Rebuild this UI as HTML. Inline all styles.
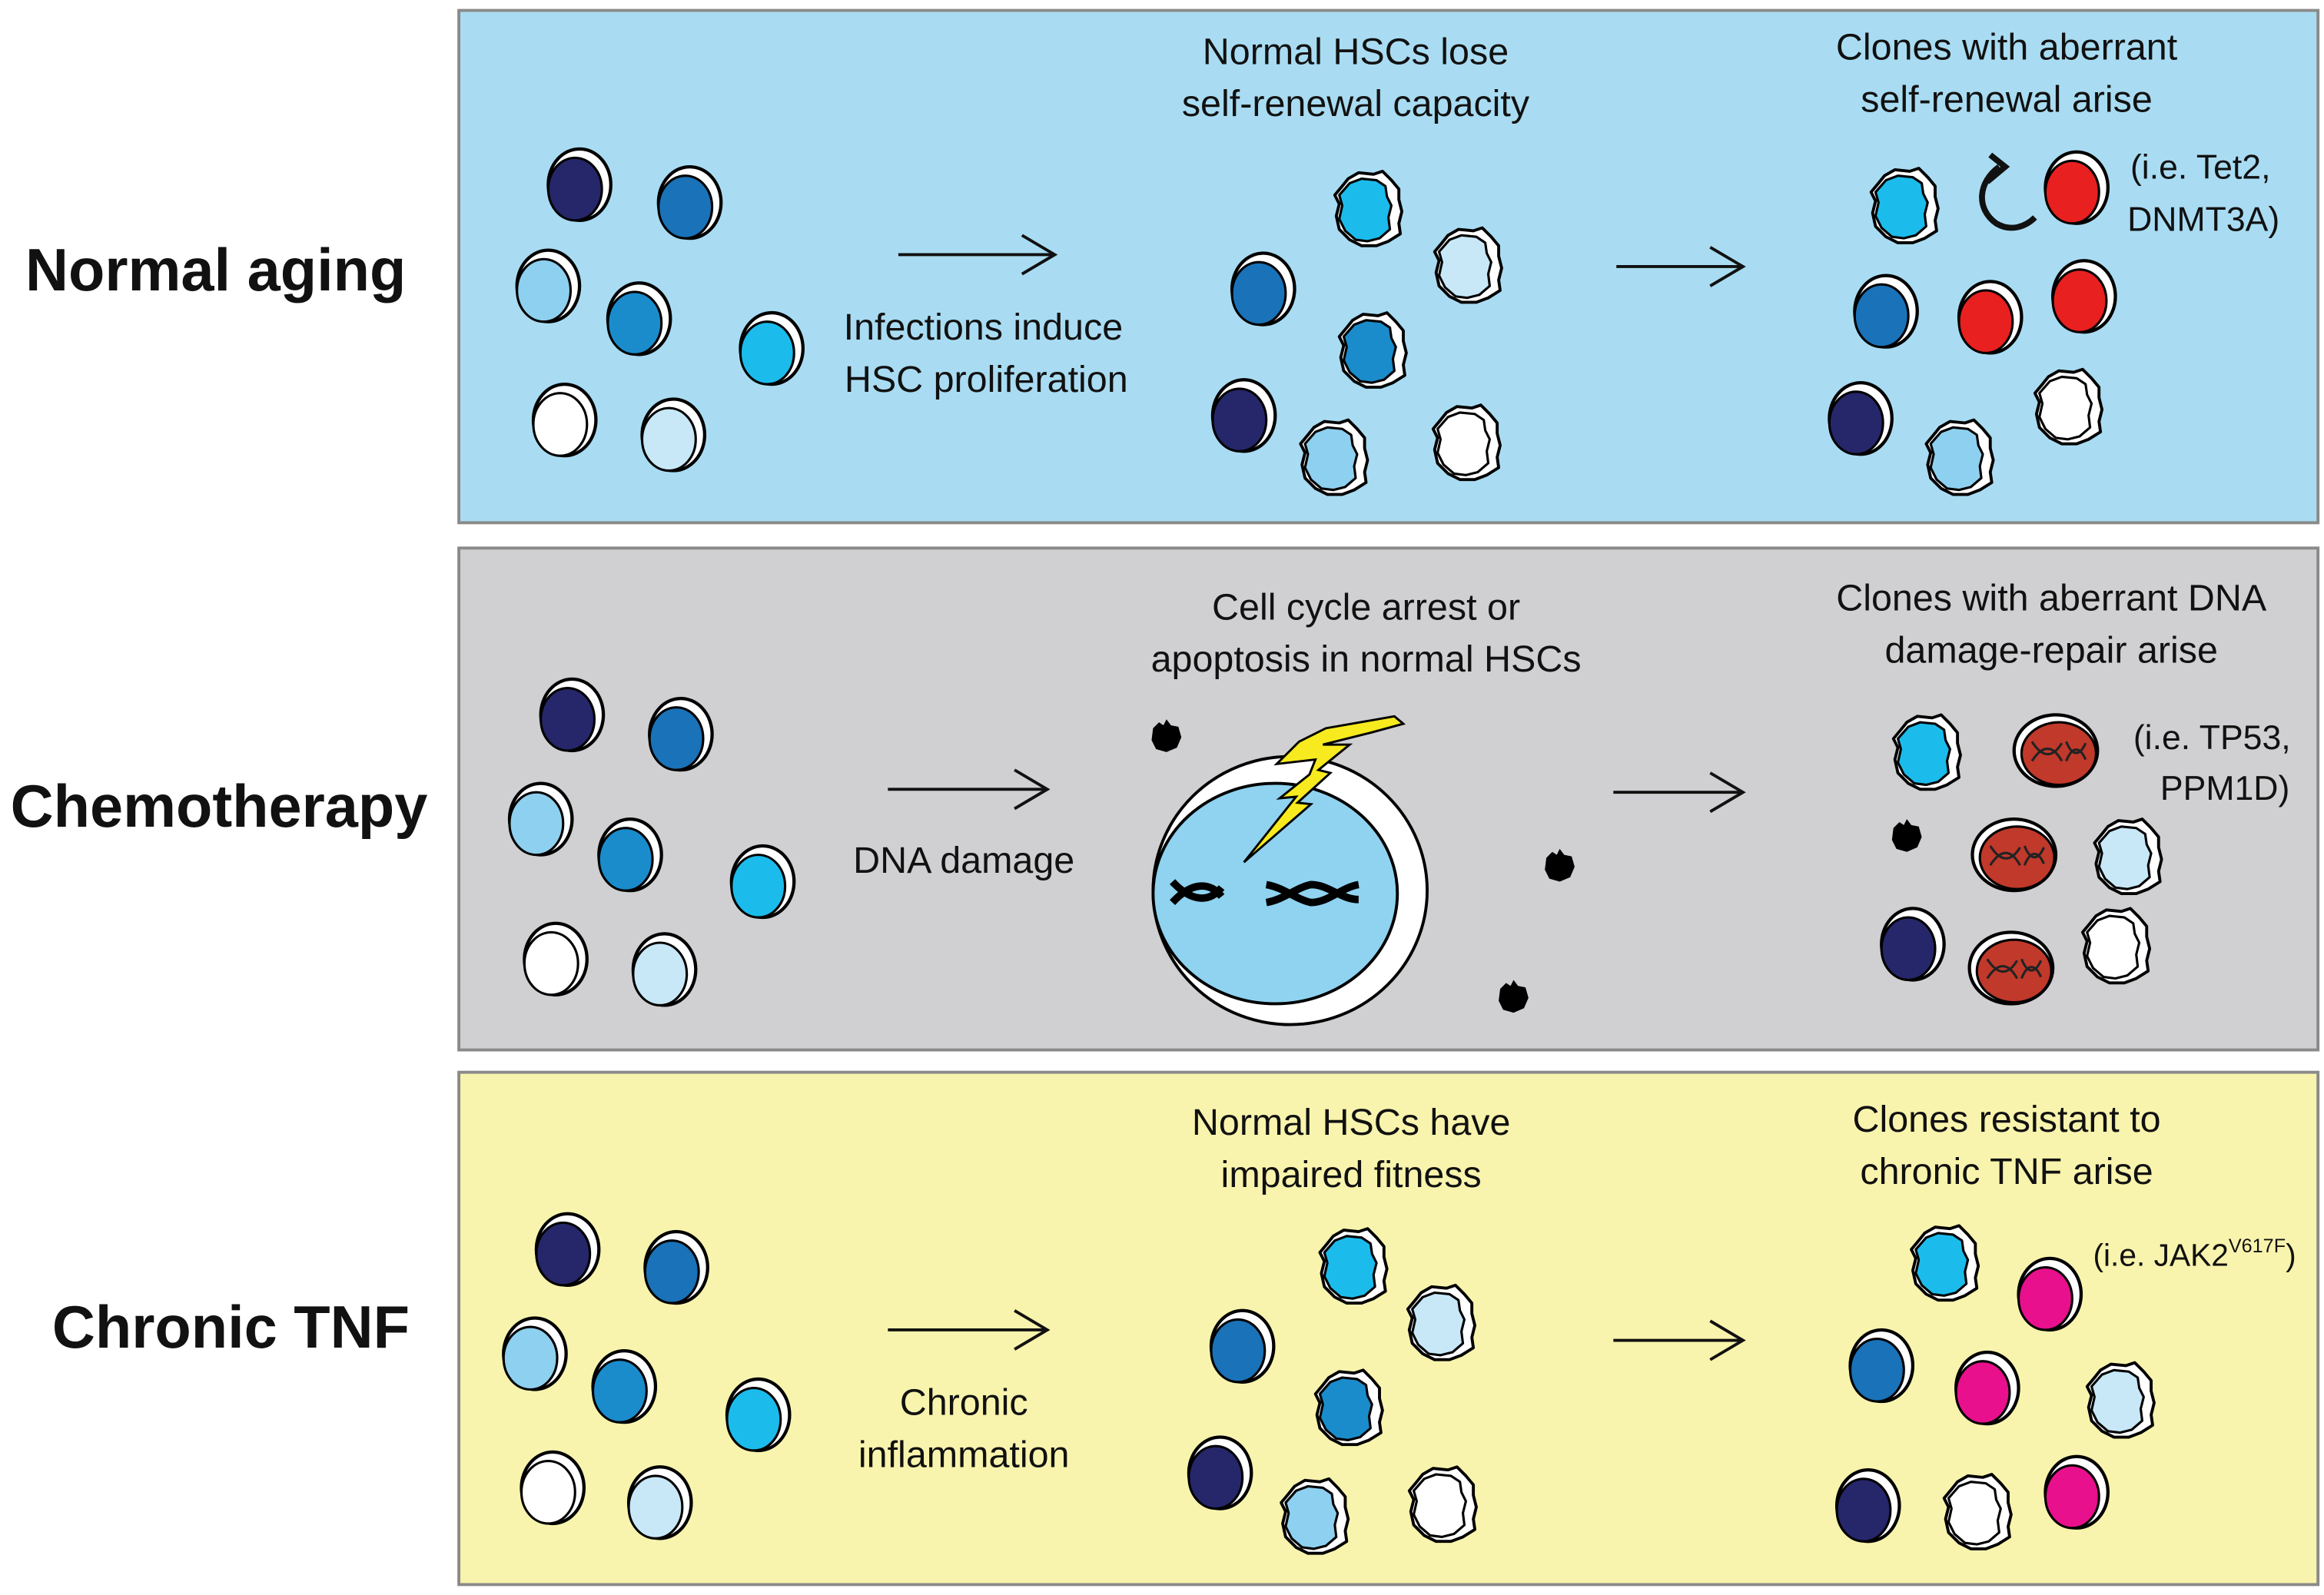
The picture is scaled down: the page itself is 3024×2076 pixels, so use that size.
<!DOCTYPE html>
<html><head><meta charset="utf-8"><style>
html,body{margin:0;padding:0;background:#fff;}
svg{display:block;}
text{font-family:"Liberation Sans",Arial,sans-serif;fill:#111;}
.t{font-size:25px;text-anchor:middle;}
.s{font-size:23px;}
.h{font-size:40px;font-weight:bold;}
</style></head><body>
<svg width="3024" height="2076" viewBox="0 0 1560 1071" xmlns="http://www.w3.org/2000/svg">
<defs>
<symbol id="c" viewBox="-30 -30 60 60" overflow="visible">
<ellipse cx="1" cy="-1" rx="21" ry="24" fill="#fff" stroke="#000" stroke-width="2.2"/>
<ellipse cx="-2" cy="2" rx="18" ry="21" fill="currentColor" stroke="#000" stroke-width="1.6"/>
</symbol>
<symbol id="r" viewBox="-30 -30 60 60" overflow="visible">
<path d="M-13,-20 L-6,-24 L4,-23 L10,-25 L16,-19 L21,-13 L21,-6 L23,2 L21,10 L22,17 L14,22 L6,25 L-4,25 L-12,21 L-19,14 L-21,5 L-19,-3 L-22,-9 L-17,-15 Z" fill="#fff" stroke="#000" stroke-width="2" stroke-linejoin="round"/>
<path d="M-12,-17 L-4,-20 L6,-19 L12,-15 L13,-8 L16,-2 L14,6 L15,14 L8,20 L0,22 L-8,21 L-15,15 L-19,7 L-17,-2 L-19,-9 Z" fill="currentColor" stroke="#000" stroke-width="1.6" stroke-linejoin="round"/>
</symbol>
<symbol id="b" viewBox="-30 -30 60 60" overflow="visible">
<ellipse cx="0" cy="0" rx="28" ry="24" fill="#fff" stroke="#000" stroke-width="2.2"/>
<ellipse cx="2" cy="2" rx="25" ry="21" fill="#c0392b" stroke="#000" stroke-width="1.6"/>
<path d="M-16,-6 C-9,5 -2,5 4,-5 M-16,7 C-9,-4 -2,-4 4,7 M7,-6 C11,4 16,4 20,-5 M7,7 C11,-3 16,-3 20,6" fill="none" stroke="#222" stroke-width="1.6"/>
</symbol>
<symbol id="k" viewBox="-30 -30 60 60" overflow="visible">
<path d="M-9,-6 L-5,-10 L-2,-8 L0,-12 L3,-8 L8,-7 L10,0 L7,7 L0,10 L-7,8 L-10,2 Z" fill="#000"/>
</symbol>
</defs>

<rect x="308" y="7" width="1248" height="344" fill="#a9dcf2" stroke="#8a8a8a" stroke-width="2"/>
<rect x="308" y="368" width="1248" height="337" fill="#d0d0d2" stroke="#8a8a8a" stroke-width="2"/>
<rect x="308" y="720" width="1248" height="344" fill="#f9f4ad" stroke="#8a8a8a" stroke-width="2"/>

<text class="h" x="17" y="195">Normal aging</text>
<text class="h" x="7" y="555">Chemotherapy</text>
<text class="h" x="35" y="905">Chronic TNF</text>

<g stroke="#111" stroke-width="2" fill="none">
<path d="M603,171 H708 M686,158 L708,171 L686,184"/>
<path d="M1085,179 H1170 M1148,166 L1170,179 L1148,192"/>
<path d="M596,530 H703 M681,517 L703,530 L681,543"/>
<path d="M1083,532 H1170 M1148,519 L1170,532 L1148,545"/>
<path d="M596,893 H703 M681,880 L703,893 L681,906"/>
<path d="M1083,900 H1170 M1148,887 L1170,900 L1148,913"/>
</g>

<text class="t" x="660" y="228">Infections induce</text>
<text class="t" x="662" y="263">HSC proliferation</text>
<text class="t" x="910" y="43">Normal HSCs lose</text>
<text class="t" x="910" y="78">self-renewal capacity</text>
<text class="t" x="1347" y="40">Clones with aberrant</text>
<text class="t" x="1347" y="75">self-renewal arise</text>
<text class="s" x="1430" y="120">(i.e. Tet2,</text>
<text class="s" x="1428" y="155">DNMT3A)</text>

<use href="#c" x="358" y="95" width="60" height="60" color="#26266a"/>
<use href="#c" x="432" y="107" width="60" height="60" color="#1a72b8"/>
<use href="#c" x="337" y="163" width="60" height="60" color="#8ed0ef"/>
<use href="#c" x="398" y="185" width="60" height="60" color="#1a8ccc"/>
<use href="#c" x="487" y="205" width="60" height="60" color="#1bbcec"/>
<use href="#c" x="348" y="253" width="60" height="60" color="#ffffff"/>
<use href="#c" x="421" y="263" width="60" height="60" color="#c8e8f8"/>

<use href="#r" x="888" y="110" width="60" height="60" color="#1bbcec"/>
<use href="#r" x="955" y="148" width="60" height="60" color="#c8e8f8"/>
<use href="#c" x="817" y="165" width="60" height="60" color="#1a72b8"/>
<use href="#r" x="891" y="205" width="60" height="60" color="#1a8ccc"/>
<use href="#c" x="804" y="250" width="60" height="60" color="#26266a"/>
<use href="#r" x="865" y="277" width="60" height="60" color="#8ed0ef"/>
<use href="#r" x="954" y="267" width="60" height="60" color="#ffffff"/>

<use href="#r" x="1248" y="108" width="60" height="60" color="#1bbcec"/>
<use href="#c" x="1363" y="97" width="60" height="60" color="#e82020"/>
<path d="M1342,112 C1328,122 1326,140 1340,150 C1350,156 1360,152 1366,146" fill="none" stroke="#111" stroke-width="4"/>
<path d="M1336,104 L1346,112 L1334,122" fill="none" stroke="#111" stroke-width="4"/>
<use href="#c" x="1235" y="180" width="60" height="60" color="#1a72b8"/>
<use href="#c" x="1305" y="184" width="60" height="60" color="#e82020"/>
<use href="#c" x="1368" y="170" width="60" height="60" color="#e82020"/>
<use href="#c" x="1218" y="252" width="60" height="60" color="#26266a"/>
<use href="#r" x="1285" y="277" width="60" height="60" color="#8ed0ef"/>
<use href="#r" x="1358" y="243" width="60" height="60" color="#ffffff"/>

<text class="t" x="647" y="586">DNA damage</text>
<text class="t" x="917" y="416">Cell cycle arrest or</text>
<text class="t" x="917" y="451">apoptosis in normal HSCs</text>
<text class="t" x="1377" y="410">Clones with aberrant DNA</text>
<text class="t" x="1377" y="445">damage-repair arise</text>
<text class="s" x="1432" y="503">(i.e. TP53,</text>
<text class="s" x="1537" y="537" text-anchor="end">PPM1D)</text>

<use href="#c" x="353" y="451" width="60" height="60" color="#26266a"/>
<use href="#c" x="426" y="464" width="60" height="60" color="#1a72b8"/>
<use href="#c" x="332" y="521" width="60" height="60" color="#8ed0ef"/>
<use href="#c" x="392" y="545" width="60" height="60" color="#1a8ccc"/>
<use href="#c" x="481" y="563" width="60" height="60" color="#1bbcec"/>
<use href="#c" x="342" y="615" width="60" height="60" color="#ffffff"/>
<use href="#c" x="415" y="622" width="60" height="60" color="#c8e8f8"/>

<ellipse cx="866" cy="598" rx="92" ry="90" fill="#fff" stroke="#000" stroke-width="2"/>
<ellipse cx="856" cy="600" rx="82" ry="74" fill="#8fd3f0" stroke="#000" stroke-width="2"/>
<path d="M787,592 C800,606 812,606 820,596 M787,606 C800,592 812,592 820,602" fill="none" stroke="#000" stroke-width="5"/>
<path d="M850,594 C862,596 870,604 880,606 C892,606 900,596 912,594 M850,606 C862,604 870,596 880,594 C892,594 900,604 912,604" fill="none" stroke="#000" stroke-width="5"/>
<polygon points="936,481 890,489 872,498 857,513 883,510 879,520 859,536 870,535 835,579 880,540 871,539 893,519 885,517 906,500 888,500 920,492 942,486" fill="#f7ea1e" stroke="#000" stroke-width="1.5"/>
<use href="#k" x="753" y="465" width="60" height="60"/>
<use href="#k" x="1017" y="552" width="60" height="60"/>
<use href="#k" x="986" y="640" width="60" height="60"/>

<use href="#r" x="1263" y="475" width="60" height="60" color="#1bbcec"/>
<use href="#b" x="1350" y="474" width="60" height="60"/>
<use href="#k" x="1250" y="532" width="60" height="60"/>
<use href="#b" x="1322" y="544" width="60" height="60"/>
<use href="#r" x="1398" y="545" width="60" height="60" color="#c8e8f8"/>
<use href="#c" x="1253" y="605" width="60" height="60" color="#26266a"/>
<use href="#b" x="1320" y="620" width="60" height="60"/>
<use href="#r" x="1390" y="605" width="60" height="60" color="#ffffff"/>

<text class="t" x="647" y="950">Chronic</text>
<text class="t" x="647" y="985">inflammation</text>
<text class="t" x="907" y="762">Normal HSCs have</text>
<text class="t" x="907" y="797">impaired fitness</text>
<text class="t" x="1347" y="760">Clones resistant to</text>
<text class="t" x="1347" y="795">chronic TNF arise</text>
<text class="s" x="1405" y="850" style="font-size:21px">(i.e. JAK2<tspan dy="-9" style="font-size:13px">V617F</tspan><tspan dy="9">)</tspan></text>

<use href="#c" x="350" y="810" width="60" height="60" color="#26266a"/>
<use href="#c" x="423" y="822" width="60" height="60" color="#1a72b8"/>
<use href="#c" x="328" y="880" width="60" height="60" color="#8ed0ef"/>
<use href="#c" x="388" y="902" width="60" height="60" color="#1a8ccc"/>
<use href="#c" x="478" y="921" width="60" height="60" color="#1bbcec"/>
<use href="#c" x="340" y="970" width="60" height="60" color="#ffffff"/>
<use href="#c" x="412" y="980" width="60" height="60" color="#c8e8f8"/>

<use href="#r" x="878" y="820" width="60" height="60" color="#1bbcec"/>
<use href="#r" x="937" y="858" width="60" height="60" color="#c8e8f8"/>
<use href="#c" x="803" y="875" width="60" height="60" color="#1a72b8"/>
<use href="#r" x="875" y="915" width="60" height="60" color="#1a8ccc"/>
<use href="#c" x="788" y="960" width="60" height="60" color="#26266a"/>
<use href="#r" x="852" y="988" width="60" height="60" color="#8ed0ef"/>
<use href="#r" x="938" y="980" width="60" height="60" color="#ffffff"/>

<use href="#r" x="1275" y="818" width="60" height="60" color="#1bbcec"/>
<use href="#c" x="1345" y="840" width="60" height="60" color="#e8108c"/>
<use href="#c" x="1232" y="888" width="60" height="60" color="#1a72b8"/>
<use href="#c" x="1303" y="903" width="60" height="60" color="#e8108c"/>
<use href="#r" x="1393" y="910" width="60" height="60" color="#c8e8f8"/>
<use href="#c" x="1223" y="982" width="60" height="60" color="#26266a"/>
<use href="#r" x="1297" y="985" width="60" height="60" color="#ffffff"/>
<use href="#c" x="1363" y="973" width="60" height="60" color="#e8108c"/>
</svg>
</body></html>
